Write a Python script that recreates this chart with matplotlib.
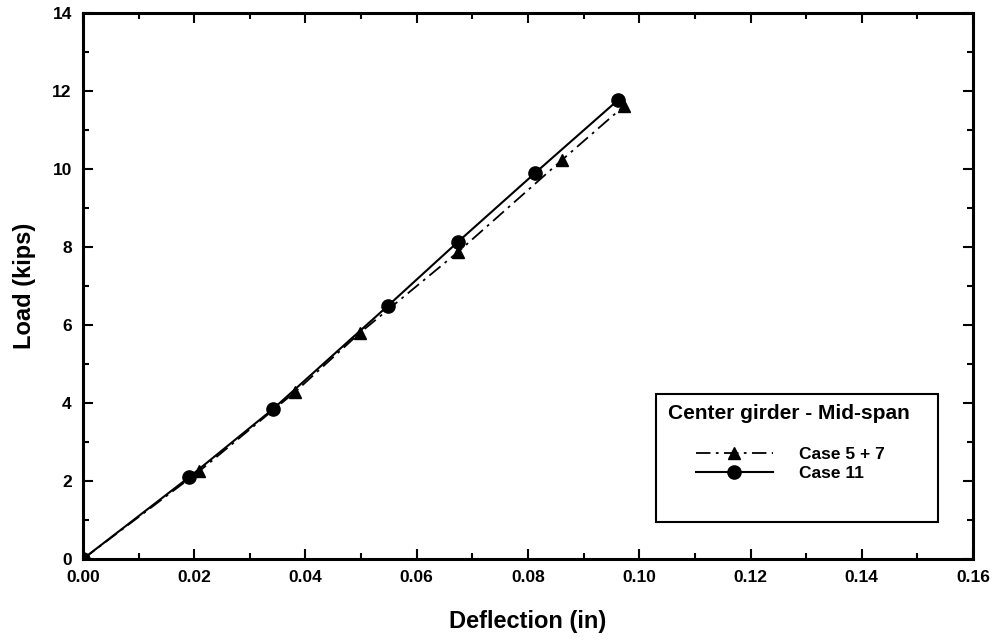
import matplotlib
matplotlib.use("Agg")
import matplotlib.pyplot as plt
from matplotlib.lines import Line2D
from matplotlib.patches import Rectangle
from matplotlib.ticker import MultipleLocator

plt.rcParams['font.family'] = ['Liberation Sans', 'DejaVu Sans']
plt.rcParams['font.weight'] = 'bold'

# Case 5 + 7 (triangles, dash-dot)
defl_57 = [0.0, 0.0209, 0.0381, 0.0498, 0.0674, 0.0861, 0.0973]
load_57 = [0.0, 2.25, 4.28, 5.80, 7.87, 10.23, 11.62]

# Case 11 (circles, solid)
defl_11 = [0.0, 0.0191, 0.0342, 0.0548, 0.0674, 0.0813, 0.0962]
load_11 = [0.0, 2.10, 3.85, 6.49, 8.13, 9.90, 11.77]

x_ticks = [0.00, 0.02, 0.04, 0.06, 0.08, 0.10, 0.12, 0.14, 0.16]
y_ticks = [0, 2, 4, 6, 8, 10, 12, 14]

fig = plt.figure(figsize=(9.95, 6.4), dpi=100)
ax = fig.add_axes([0.0834, 0.1266, 0.8945, 0.8531])

dashdot = (8, 3, 1.5, 3)
ax.plot(defl_57, load_57, color='black', lw=1.3, dashes=dashdot,
        marker='^', markersize=9, label='Case 5 + 7')
ax.plot(defl_11, load_11, color='black', lw=1.5, linestyle='-',
        marker='o', markersize=9.5, label='Case 11')

ax.set_xlim(0, 0.16)
ax.set_ylim(0, 14)
ax.set_xticks(x_ticks)
ax.set_xticklabels([f'{v:.2f}' for v in x_ticks])
ax.set_yticks(y_ticks)
ax.xaxis.set_minor_locator(MultipleLocator(0.01))
ax.yaxis.set_minor_locator(MultipleLocator(1))
ax.tick_params(which='both', direction='in', top=True, right=True, width=1.5)
ax.tick_params(which='major', length=7, labelsize=12.5, pad=8)
ax.tick_params(which='minor', length=4)
for lab in ax.get_xticklabels() + ax.get_yticklabels():
    lab.set_fontweight('bold')
for sp in ax.spines.values():
    sp.set_linewidth(2.2)

ax.set_xlabel('Deflection (in)', fontsize=17, fontweight='bold', labelpad=18)
ax.set_ylabel('Load (kips)', fontsize=17, fontweight='bold', labelpad=12)

# legend box
box = Rectangle((0.644, 0.068), 0.317, 0.235, transform=ax.transAxes,
                fill=False, edgecolor='black', lw=1.5)
ax.add_patch(box)
ax.text(0.657, 0.267, 'Center girder - Mid-span', transform=ax.transAxes,
        fontsize=15, fontweight='bold', va='center', ha='left')
handles = [Line2D([], [], color='black', lw=1.3, dashes=dashdot, marker='^', markersize=9),
           Line2D([], [], color='black', lw=1.5, marker='o', markersize=9.5)]
leg = ax.legend(handles, ['Case 5 + 7', 'Case 11'],
                loc='upper left', bbox_to_anchor=(0.689, 0.205), frameon=False,
                fontsize=12.5, handlelength=4.4, handletextpad=1.5,
                labelspacing=0.2, borderaxespad=0.0, borderpad=0.0)
for t in leg.get_texts():
    t.set_fontweight('bold')

fig.savefig('out.png', dpi=100)
